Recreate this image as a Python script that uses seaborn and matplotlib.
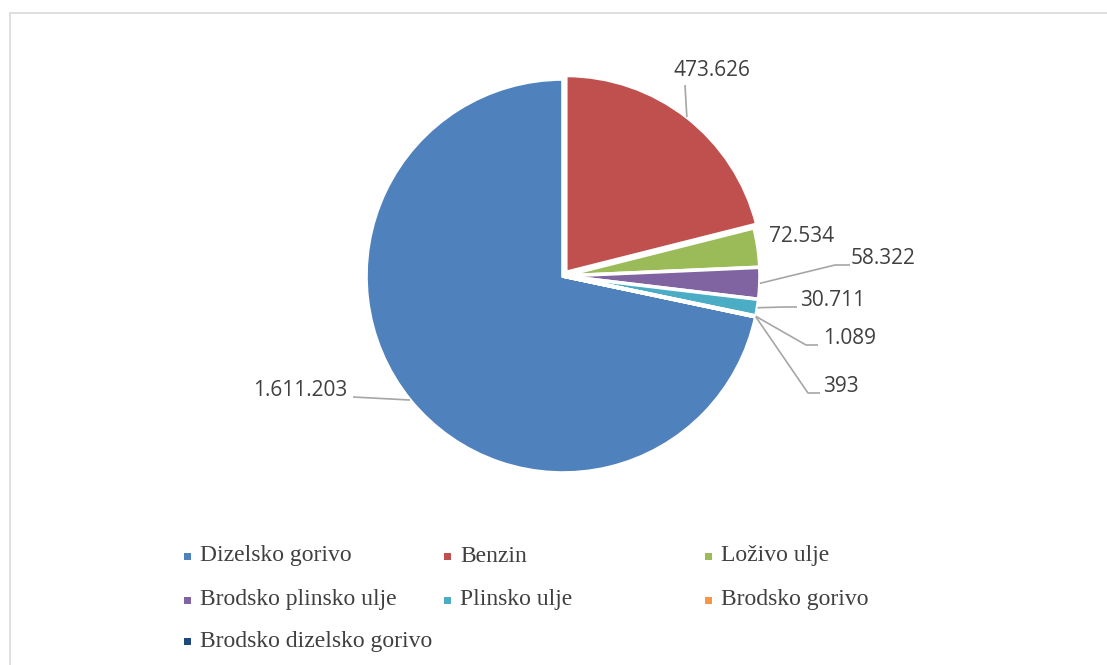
import numpy as np
import matplotlib
matplotlib.use('Agg')
import matplotlib.pyplot as plt
from matplotlib.patches import Rectangle
import seaborn as sns

# data
fuels = ['Dizelsko gorivo', 'Benzin', 'Loživo ulje', 'Brodsko plinsko ulje',
         'Plinsko ulje', 'Brodsko gorivo', 'Brodsko dizelsko gorivo']
amounts = [1611203, 473626, 72534, 58322, 30711, 1089, 393]
value_labels = ['1.611.203', '473.626', '72.534', '58.322', '30.711', '1.089', '393']
colors = ['#4F81BD', '#C0504D', '#9BBB59', '#8064A2', '#4BACC6', '#F79646', '#1F497D']

# label layout (screen pixels, y down)
label_pos = [(300, 390), (712, 71), (802, 237), (883, 259), (833, 300), (850, 338), (841, 386)]
leader_end = [(353, 397), (685, 85), None, (850, 265), (797, 307), (818, 345), (820, 393)]
leader_hook = [0, 0, 0, 15, 12, 12, 12]

W, H = 1107, 665
sns.set_style('white')

fig = plt.figure(figsize=(W / 100, H / 100), dpi=100)
ax = fig.add_axes([0, 0, 1, 1])
ax.set_xlim(0, W)
ax.set_ylim(0, H)
ax.axis('off')

def px(x, y):
    return x, H - y

cx, cy = px(563, 276)
radius = 197
frac_first = amounts[0] / sum(amounts)
start = 360 * frac_first - 270

# explode is in data units (pixels here)
wedges, _ = ax.pie(amounts, colors=sns.color_palette(colors), center=(cx, cy), radius=radius,
                   startangle=start, counterclock=False,
                   explode=[0, 4.5, 0, 0, 0, 0, 0],
                   wedgeprops=dict(edgecolor='white', linewidth=2.6))
ax.set_xlim(0, W)
ax.set_ylim(0, H)
ax.set_aspect('equal')

# value labels with leader lines
for w, txt, pos, end, hook in zip(wedges, value_labels, label_pos, leader_end, leader_hook):
    ax.text(*px(*pos), txt, ha='center', va='center', fontsize=15,
            family='Open Sans', color='#404040')
    if end is None:
        continue
    mid = np.deg2rad((w.theta1 + w.theta2) / 2)
    wx, wy = w.center
    sx = wx + w.r * np.cos(mid)
    sy = wy + w.r * np.sin(mid)
    ex, ey = px(*end)
    xs = [sx, ex - hook, ex]
    ys = [sy, ey, ey]
    ax.plot(xs, ys, color='#A6A6A6', lw=1.2, solid_capstyle='butt')

# legend
leg_cols = [187, 447, 708]
leg_rows = [556, 600, 641]
for i, (name, c) in enumerate(zip(fuels, colors)):
    lx = leg_cols[i % 3]
    ly = leg_rows[i // 3]
    mx, my = px(lx, ly)
    ax.add_patch(Rectangle((mx - 3.5, my - 3.5), 7, 7, facecolor=c, edgecolor='none'))
    ax.text(mx + 13, my, name, ha='left', va='center', fontsize=17,
            family='Liberation Serif', color='#404040')

# chart border
fx, fy = px(10, 13)
ax.add_patch(Rectangle((fx, -5), W, fy + 5, facecolor='none', edgecolor='#D9D9D9', lw=1.2))

fig.savefig('out.png', dpi=100)
